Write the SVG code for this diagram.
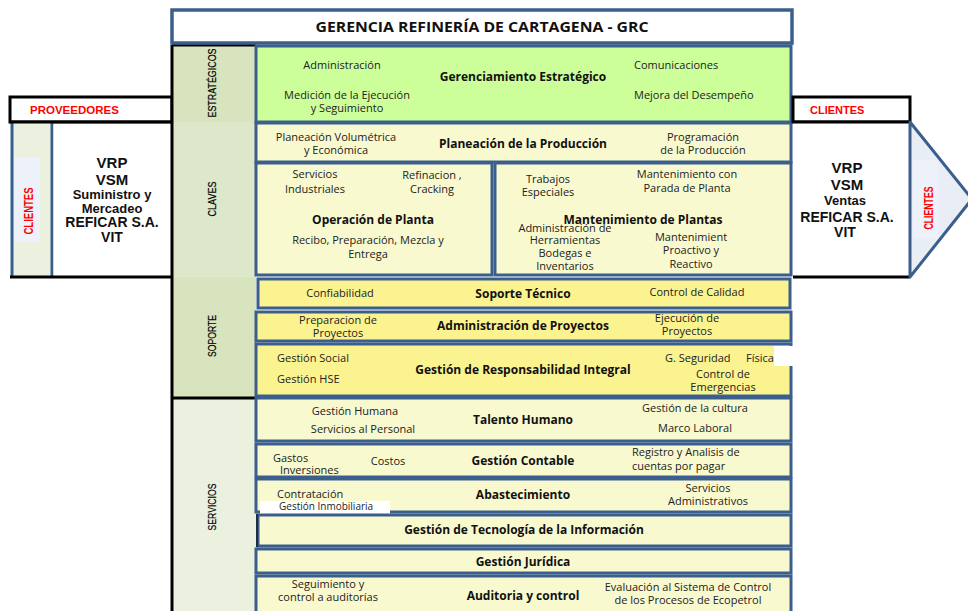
<svg xmlns="http://www.w3.org/2000/svg" width="968" height="611" viewBox="0 0 968 611">
<style>
.box{stroke:#3B5F8D;stroke-width:3}
.blk{stroke:#000;stroke-width:3;fill:none}
.g{fill:#CCFF99}
.ly{fill:#F9F9CF}
.yy{fill:#FBF38F}
.t{font-family:'Open Sans','Liberation Sans',sans-serif;font-size:11px;fill:#222;text-anchor:middle}
.s{text-anchor:start}
.b{font-weight:bold;font-size:12px;fill:#111}
.cat{font-family:'Liberation Sans',Arial,sans-serif;font-size:10.5px;fill:#000;text-anchor:middle;stroke:#000;stroke-width:0.2}
.red{font-family:'Liberation Sans',Arial,sans-serif;font-weight:bold;fill:#FF0000}
.v{font-family:'Liberation Sans',Arial,sans-serif;font-weight:bold;fill:#111;text-anchor:middle}
</style>

<g id="left-side">
  <rect x="10" y="97" width="162" height="25" fill="#fff" class="blk"/>
  <text class="red" x="30" y="114" font-size="11.5">PROVEEDORES</text>
  <rect x="12" y="122" width="40" height="155" fill="#EBF1DE"/>
  <rect x="14" y="157" width="26" height="85" fill="#EDF1F9"/>
  <line x1="12" y1="122" x2="12" y2="277" stroke="#3B5F8D" stroke-width="3"/>
  <line x1="52" y1="122" x2="52" y2="277" stroke="#3B5F8D" stroke-width="3"/>
  <text class="red" font-size="12" transform="translate(33,211) rotate(-90)" text-anchor="middle" textLength="47" lengthAdjust="spacingAndGlyphs">CLIENTES</text>
  <rect x="53.5" y="123.5" width="117" height="152" fill="#fff"/>
  <text class="v" x="112" y="168" font-size="15">VRP</text>
  <text class="v" x="112" y="185" font-size="15">VSM</text>
  <text class="v" x="112" y="199" font-size="13">Suministro y</text>
  <text class="v" x="112" y="213" font-size="13">Mercadeo</text>
  <text class="v" x="112" y="227" font-size="14">REFICAR S.A.</text>
  <text class="v" x="112" y="242" font-size="14">VIT</text>
  <line x1="10" y1="122" x2="256" y2="122" class="blk"/>
  <line x1="10" y1="277" x2="256" y2="277" class="blk"/>
</g>

<g id="categories">
  <rect x="172" y="45" width="84" height="77" fill="#D7E4BD"/>
  <rect x="172" y="122" width="84" height="155" fill="#DDE7C9"/>
  <rect x="172" y="277" width="84" height="121" fill="#D7E4BD"/>
  <rect x="172" y="398" width="84" height="213" fill="#EBF1DE"/>
  <line x1="172" y1="45" x2="256" y2="45" class="blk"/>
  <line x1="172" y1="398" x2="256" y2="398" class="blk"/>
  <line x1="172" y1="45" x2="172" y2="611" class="blk"/>
  <text class="cat" transform="translate(216,83) rotate(-90)" textLength="69" lengthAdjust="spacingAndGlyphs">ESTRATÉGICOS</text>
  <text class="cat" transform="translate(216,199) rotate(-90)" textLength="35" lengthAdjust="spacingAndGlyphs">CLAVES</text>
  <text class="cat" transform="translate(216,336) rotate(-90)" textLength="42" lengthAdjust="spacingAndGlyphs">SOPORTE</text>
  <text class="cat" transform="translate(216,507) rotate(-90)" textLength="47" lengthAdjust="spacingAndGlyphs">SERVICIOS</text>
</g>

<g id="title">
  <rect x="172" y="10" width="620" height="33" fill="#fff" stroke="#3B5F8D" stroke-width="3.5"/>
  <text class="t b" x="482" y="32" style="font-size:15px" textLength="333" lengthAdjust="spacingAndGlyphs">GERENCIA REFINERÍA DE CARTAGENA - GRC</text>
</g>

<g id="gerenciamiento-estrategico">
  <rect class="box g" x="256" y="46" width="535" height="76"/>
  <text class="t" x="342" y="69">Administración</text>
  <text class="t" x="347" y="99">Medición de la Ejecución</text>
  <text class="t" x="347" y="112">y Seguimiento</text>
  <text class="t b" x="523" y="81">Gerenciamiento Estratégico</text>
  <text class="t s" x="634" y="69">Comunicaciones</text>
  <text class="t s" x="634" y="99">Mejora del Desempeño</text>
</g>

<g id="planeacion-produccion">
  <rect class="box ly" x="256" y="123" width="535" height="39"/>
  <text class="t" x="336" y="141">Planeación  Volumétrica</text>
  <text class="t" x="336" y="154">y Económica</text>
  <text class="t b" x="523" y="148">Planeación de la Producción</text>
  <text class="t" x="703" y="141">Programación</text>
  <text class="t" x="703" y="154">de la Producción</text>
</g>

<g id="operacion-planta">
  <rect class="box ly" x="256" y="163" width="236" height="112"/>
  <text class="t" x="315" y="178">Servicios</text>
  <text class="t" x="315" y="193">Industriales</text>
  <text class="t" x="432" y="179">Refinacion ,</text>
  <text class="t" x="432" y="193">Cracking</text>
  <text class="t b" x="373" y="224">Operación de Planta</text>
  <text class="t" x="368" y="244">Recibo, Preparación, Mezcla y</text>
  <text class="t" x="368" y="258">Entrega</text>
</g>

<g id="mantenimiento-plantas">
  <rect class="box ly" x="495" y="163" width="296" height="112"/>
  <text class="t" x="548" y="183">Trabajos</text>
  <text class="t" x="548" y="196">Especiales</text>
  <text class="t" x="687" y="178">Mantenimiento con</text>
  <text class="t" x="687" y="192">Parada de Planta</text>
  <text class="t" x="565" y="232">Administración de</text>
  <text class="t" x="565" y="244">Herramientas</text>
  <text class="t" x="565" y="257">Bodegas e</text>
  <text class="t" x="565" y="270">Inventarios</text>
  <text class="t b" x="643" y="224">Mantenimiento de Plantas</text>
  <text class="t" x="691" y="241">Mantenimient</text>
  <text class="t" x="691" y="254">Proactivo  y</text>
  <text class="t" x="691" y="268">Reactivo</text>
</g>

<g id="soporte-tecnico">
  <rect class="box yy" x="258" y="279" width="532" height="29"/>
  <text class="t" x="340" y="297">Confiabilidad</text>
  <text class="t b" x="523" y="298">Soporte Técnico</text>
  <text class="t" x="697" y="296">Control de Calidad</text>
</g>

<g id="administracion-proyectos">
  <rect class="box yy" x="256" y="312" width="535" height="29"/>
  <text class="t" x="338" y="324">Preparacion de</text>
  <text class="t" x="338" y="337">Proyectos</text>
  <text class="t b" x="523" y="330">Administración de Proyectos</text>
  <text class="t" x="687" y="322">Ejecución de</text>
  <text class="t" x="687" y="335">Proyectos</text>
</g>

<g id="responsabilidad-integral">
  <rect class="box yy" x="256" y="344" width="535" height="52"/>
  <rect x="774" y="346" width="20" height="20" fill="#fff"/>
  <text class="t s" x="277" y="362">Gestión Social</text>
  <text class="t s" x="277" y="383">Gestión HSE</text>
  <text class="t b" x="523" y="374">Gestión de Responsabilidad Integral</text>
  <text class="t s" x="665" y="362">G. Seguridad</text>
  <text class="t s" x="746" y="362">Física</text>
  <text class="t" x="723" y="378">Control de</text>
  <text class="t" x="723" y="391">Emergencias</text>
</g>

<g id="talento-humano">
  <rect class="box ly" x="256" y="398" width="535" height="43"/>
  <text class="t" x="355" y="415">Gestión Humana</text>
  <text class="t" x="363" y="433">Servicios al Personal</text>
  <text class="t b" x="523" y="424">Talento Humano</text>
  <text class="t" x="695" y="412">Gestión de la cultura</text>
  <text class="t" x="695" y="432">Marco Laboral</text>
</g>

<g id="gestion-contable">
  <rect class="box ly" x="256" y="444" width="535" height="33"/>
  <text class="t s" x="273" y="462">Gastos</text>
  <text class="t s" x="280" y="474">Inversiones</text>
  <text class="t" x="388" y="465">Costos</text>
  <text class="t b" x="523" y="465">Gestión Contable</text>
  <text class="t s" x="632" y="456">Registro y Analisis de</text>
  <text class="t s" x="632" y="470">cuentas por pagar</text>
</g>

<g id="abastecimiento">
  <rect class="box ly" x="256" y="479" width="535" height="33"/>
  <rect x="260" y="501" width="130" height="13" fill="#fff"/>
  <text class="t s" x="277" y="498">Contratación</text>
  <text class="t s" x="279" y="510" style="font-size:10px">Gestión Inmobiliaria</text>
  <text class="t b" x="523" y="499">Abastecimiento</text>
  <text class="t" x="708" y="492">Servicios</text>
  <text class="t" x="708" y="505">Administrativos</text>
</g>

<g id="tecnologia-informacion">
  <rect class="box ly" x="258" y="515" width="533" height="31"/>
  <line x1="257" y1="514" x2="257" y2="547" stroke="#1f2d3d" stroke-width="2"/>
  <text class="t b" x="524" y="534">Gestión de Tecnología de la Información</text>
</g>

<g id="gestion-juridica">
  <rect class="box ly" x="256" y="549" width="535" height="24"/>
  <text class="t b" x="523" y="566">Gestión Jurídica</text>
</g>

<g id="auditoria-control">
  <rect class="box ly" x="256" y="576" width="535" height="40"/>
  <text class="t" x="328" y="588">Seguimiento y</text>
  <text class="t" x="328" y="601">control a auditorías</text>
  <text class="t b" x="523" y="600">Auditoria y control</text>
  <text class="t" x="688" y="591">Evaluación al Sistema de Control</text>
  <text class="t" x="688" y="604">de los Procesos de Ecopetrol</text>
</g>

<g id="right-side">
  <rect x="793" y="97" width="117" height="25" fill="#fff" class="blk"/>
  <text class="red" x="810" y="114" font-size="11">CLIENTES</text>
  <rect x="793" y="122" width="117" height="155" fill="#fff"/>
  <line x1="793" y1="122" x2="910" y2="122" class="blk"/>
  <line x1="793" y1="277" x2="910" y2="277" class="blk"/>
  <text class="v" x="847" y="173" font-size="15">VRP</text>
  <text class="v" x="847" y="190" font-size="15">VSM</text>
  <text class="v" x="845" y="205" font-size="13">Ventas</text>
  <text class="v" x="847" y="222" font-size="14">REFICAR S.A.</text>
  <text class="v" x="845" y="237" font-size="14">VIT</text>
</g>

<g id="clientes-arrow">
  <polygon points="910,122 972,199 910,277" fill="#E9EEF6" stroke="#3B5F8D" stroke-width="3" stroke-linejoin="round"/>
  <rect x="913" y="160" width="25" height="78" fill="#EDF1F9"/>
  <text class="red" font-size="12" transform="translate(933,208) rotate(-90)" text-anchor="middle" textLength="43" lengthAdjust="spacingAndGlyphs">CLIENTES</text>
</g>

<g id="connectors"></g>
</svg>
